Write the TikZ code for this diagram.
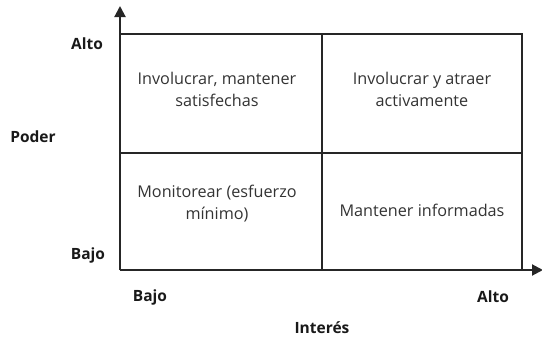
\documentclass[tikz,border=0pt]{standalone}
\usepackage{fontspec}
\setmainfont{Open Sans}
\usetikzlibrary{arrows.meta}
\definecolor{celltext}{HTML}{333333}
\begin{document}
\begin{tikzpicture}[x=1pt,y=-1pt,
  grid/.style={line width=2pt,black!85},
  axis/.style={line width=2pt,black!85,-{Triangle[length=11pt,width=11pt]}},
  celltxt/.style={font=\fontsize{16.2}{22}\selectfont,text=celltext,align=center,inner sep=0pt},
  lbl/.style={font=\fontsize{15.5}{18}\selectfont\bfseries,text=black!90,inner sep=0pt}]
\useasboundingbox (0,0) rectangle (542,340);
\coordinate (O) at (120,270);
\coordinate (Ytop) at (120,6);
\coordinate (Xend) at (543,270);
\coordinate (TL) at (120,34);
\coordinate (TR) at (522,34);
\coordinate (BR) at (522,270);
\coordinate (MT) at (322,34);
\coordinate (MB) at (322,270);
\coordinate (ML) at (120,153);
\coordinate (MR) at (522,153);
\draw[grid] (TL) -- (TR) -- (BR);
\draw[grid] (MT) -- (MB);
\draw[grid] (ML) -- (MR);
\draw[axis] (O) -- (Ytop);
\draw[axis] (O) -- (Xend);
\node[celltxt] (q1) at (217,89) {Involucrar, mantener\\satisfechas};
\node[celltxt] (q2) at (422,89) {Involucrar y atraer\\activamente};
\node[celltxt] (q3) at (217,204) {Monitorear (esfuerzo\\mínimo)};
\node[celltxt] (q4) at (422,210) {Mantener informadas};
\node[lbl] (yhi) at (87,44) {Alto};
\node[lbl] (ylbl) at (33,137) {Poder};
\node[lbl] (ylo) at (88,255) {Bajo};
\node[lbl] (xlo) at (150,297) {Bajo};
\node[lbl] (xhi) at (493,297) {Alto};
\node[lbl] (xlbl) at (322,328) {Interés};
\end{tikzpicture}
\end{document}
